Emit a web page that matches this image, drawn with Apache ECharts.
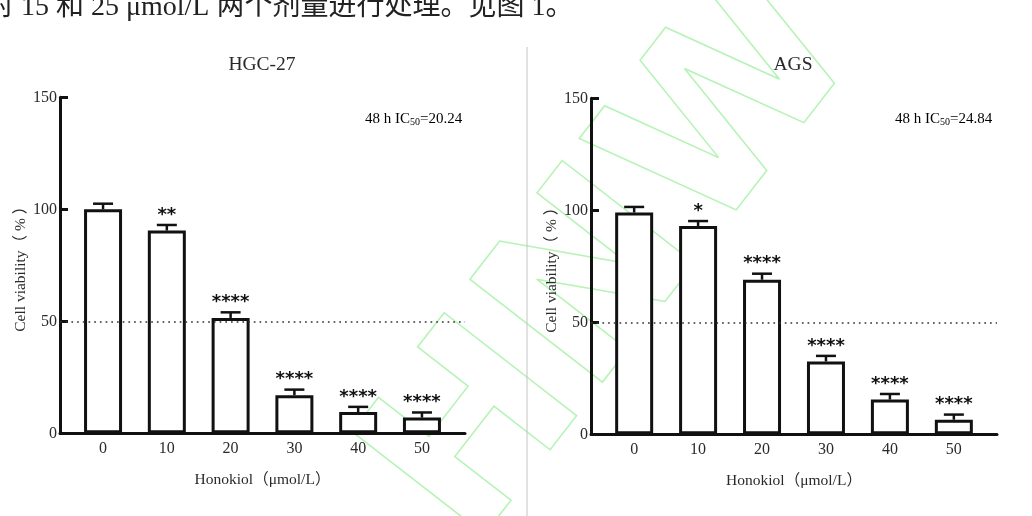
<!DOCTYPE html>
<html>
<head>
<meta charset="utf-8">
<style>
  html, body { margin: 0; padding: 0; background: #fff; }
  #chart { width: 1032px; height: 516px; }
</style>
<script src="https://cdn.jsdelivr.net/npm/echarts@6/dist/echarts.min.js"></script>
</head>
<body>
<div id="chart"></div>
<script>
// Honokiol doses (µmol/L) on the x axis
const doses = ['0', '10', '20', '30', '40', '50'];
const yTicks = [0, 50, 100, 150];

// HGC-27 cell viability (%), mean and SD
const hgcMean = [100, 90.5, 51.5, 17, 9.5, 7];
const hgcErr = [2.5, 2.5, 2.5, 2.5, 2.3, 2.3];
const hgcSig = ['', '**', '****', '****', '****', '****'];
const hgcIC50 = '20.24';

// AGS cell viability (%), mean and SD
const agsMean = [99, 93, 69, 32.5, 15.5, 6.5];
const agsErr = [2.5, 2.2, 2.7, 2.5, 2.5, 2.3];
const agsSig = ['', '*', '****', '****', '****', '****'];
const agsIC50 = '24.84';

const referenceLine = 50;

const SERIF = "'Liberation Serif', 'Times New Roman', 'Noto Sans CJK SC', serif";
const INK = '#111';
const TXT = '#2a2a2a';

const chart = echarts.init(document.getElementById('chart'), null, { renderer: 'canvas' });

function makeXAxis(gridIndex) {
  return {
    type: 'value',
    gridIndex,
    min: -0.675,
    max: doses.length - 1 + 0.675,
    name: 'Honokiol（μmol/L）',
    nameLocation: 'middle',
    nameGap: 39,
    nameTextStyle: { fontFamily: SERIF, fontSize: 15.5, color: TXT },
    axisLine: { onZero: false, lineStyle: { color: INK, width: 3 } },
    axisTick: { show: false },
    splitLine: { show: false },
    axisLabel: {
      customValues: doses.map((d, i) => i),
      formatter: (v) => doses[Math.round(v)],
      fontFamily: SERIF, fontSize: 16, color: TXT, margin: 7
    }
  };
}

function makeYAxis(gridIndex) {
  return {
    type: 'value',
    gridIndex,
    min: yTicks[0],
    max: yTicks[yTicks.length - 1],
    interval: yTicks[1] - yTicks[0],
    name: 'Cell viability（ % ）',
    nameLocation: 'middle',
    nameGap: 30,
    nameTextStyle: { fontFamily: SERIF, fontSize: 15.5, color: TXT },
    axisLine: { show: true, onZero: false, lineStyle: { color: INK, width: 3 } },
    axisTick: { show: true, inside: true, length: 8, lineStyle: { color: INK, width: 3 } },
    splitLine: { show: false },
    axisLabel: { fontFamily: SERIF, fontSize: 16, color: TXT, margin: 3 }
  };
}

function barSeries(idx, mean) {
  return {
    type: 'bar',
    xAxisIndex: idx,
    yAxisIndex: idx,
    z: 3,
    barWidth: 38,
    data: mean.map((v, i) => [i, v]),
    itemStyle: { color: '#fff', borderColor: INK, borderWidth: 3 },
    emphasis: { disabled: true },
    silent: true
  };
}

function refLineSeries(idx) {
  return {
    type: 'line',
    xAxisIndex: idx,
    yAxisIndex: idx,
    z: 1,
    data: [],
    silent: true,
    markLine: {
      silent: true,
      symbol: 'none',
      label: { show: false },
      lineStyle: { color: '#333', width: 1.7, type: [1.7, 4] },
      data: [{ yAxis: referenceLine }]
    }
  };
}

function errorSeries(idx, mean, err, sig) {
  return {
    type: 'custom',
    xAxisIndex: idx,
    yAxisIndex: idx,
    z: 4,
    silent: true,
    data: mean.map((v, i) => [i, v, err[i]]),
    renderItem: (params, api) => {
      const x = api.value(0), m = api.value(1), e = api.value(2);
      const base = api.coord([x, m]);
      const top = api.coord([x, m + e]);
      const st = { stroke: INK, lineWidth: 2.5 };
      const kids = [
        { type: 'line', shape: { x1: base[0], y1: base[1], x2: top[0], y2: top[1] }, style: st },
        { type: 'line', shape: { x1: top[0] - 10, y1: top[1], x2: top[0] + 10, y2: top[1] }, style: st }
      ];
      const s = sig[params.dataIndex];
      if (s) {
        kids.push({
          type: 'text',
          style: {
            text: s, x: top[0], y: top[1] - 10,
            align: 'center', verticalAlign: 'middle',
            font: "bold 18px 'DejaVu Sans'", fill: INK
          }
        });
      }
      return { type: 'group', children: kids };
    }
  };
}

function icText(x, value) {
  return {
    type: 'text', x, y: 119,
    style: {
      text: '{a|48 h IC}{s|50}{a|=' + value + '}',
      verticalAlign: 'middle',
      rich: {
        a: { fontFamily: SERIF, fontSize: 15, color: TXT, lineHeight: 17 },
        s: { fontFamily: SERIF, fontSize: 10, color: TXT, lineHeight: 17, verticalAlign: 'bottom', padding: [4, 0, 0, 0] }
      }
    }
  };
}

function titleText(x, text) {
  return {
    type: 'text', x, y: 65,
    style: { text, align: 'center', verticalAlign: 'middle', fontFamily: SERIF, fontSize: 19.5, fill: TXT }
  };
}

chart.setOption({
  backgroundColor: '#fff',
  animation: false,
  grid: [
    { left: 60, width: 405, top: 97.3, height: 336, containLabel: false },
    { left: 591, width: 406, top: 98.3, height: 336, containLabel: false }
  ],
  xAxis: [makeXAxis(0), makeXAxis(1)],
  yAxis: [makeYAxis(0), makeYAxis(1)],
  series: [
    refLineSeries(0), barSeries(0, hgcMean), errorSeries(0, hgcMean, hgcErr, hgcSig),
    refLineSeries(1), barSeries(1, agsMean), errorSeries(1, agsMean, agsErr, agsSig)
  ],
  graphic: [
    // faint diagonal watermark lettering behind the plots
    {
      type: 'text', x: 620, y: 262, rotation: Math.PI * 0.29, z: -10, silent: true,
      style: {
        text: 'HNW', align: 'center', verticalAlign: 'middle',
        font: "bold 230px 'DejaVu Sans'", fill: 'none', stroke: '#b6f3b6', lineWidth: 1.5
      }
    },
    // running text of the page above the figure
    {
      type: 'text', x: -14, y: 8, silent: true,
      style: {
        text: '对 15 和 25 μmol/L 两个剂量进行处理。见图 1。',
        verticalAlign: 'middle',
        font: "28px 'Liberation Serif', 'Noto Sans CJK SC'", fill: '#222'
      }
    },
    // panel divider
    { type: 'line', shape: { x1: 527, y1: 47, x2: 527, y2: 516 }, style: { stroke: '#c4c4c4', lineWidth: 1 }, silent: true },
    titleText(262, 'HGC-27'),
    titleText(793, 'AGS'),
    icText(365, hgcIC50),
    icText(895, agsIC50)
  ]
});
</script>
</body>
</html>
